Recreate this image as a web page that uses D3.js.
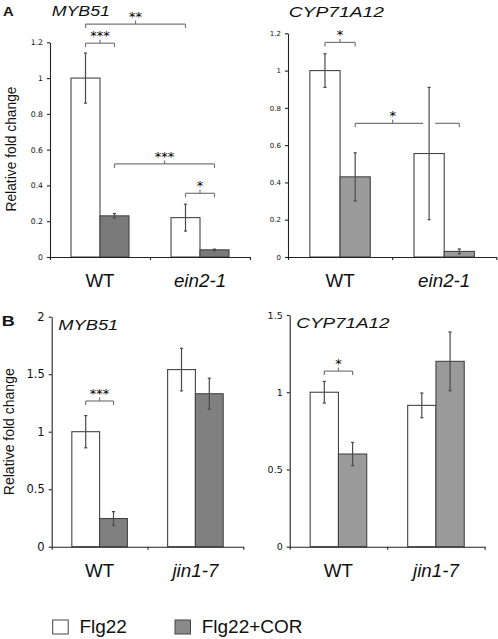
<!DOCTYPE html>
<html><head><meta charset="utf-8">
<script src="https://cdn.jsdelivr.net/npm/d3@7"></script>
<style>body{margin:0;background:#fff}svg{display:block}</style></head>
<body><svg id="c" width="498" height="639"></svg>
<script>
// ---------- data ----------
const series = ["Flg22", "Flg22+COR"];
const groupsEin2 = ["WT", "ein2-1"];
const groupsJin1 = ["WT", "jin1-7"];

const myb51Ein2Flg22 = [1.00, 0.22];
const myb51Ein2Flg22Err = [0.14, 0.075];
const myb51Ein2Cor = [0.23, 0.04];
const myb51Ein2CorErr = [0.013, 0.004];

const cypEin2Flg22 = [1.00, 0.555];
const cypEin2Flg22Err = [0.09, 0.355];
const cypEin2Cor = [0.43, 0.03];
const cypEin2CorErr = [0.129, 0.013];

const myb51Jin1Flg22 = [1.00, 1.54];
const myb51Jin1Flg22Err = [0.14, 0.185];
const myb51Jin1Cor = [0.245, 1.33];
const myb51Jin1CorErr = [0.06, 0.135];

const cypJin1Flg22 = [1.00, 0.915];
const cypJin1Flg22Err = [0.07, 0.08];
const cypJin1Cor = [0.60, 1.20];
const cypJin1CorErr = [0.075, 0.19];

const ticksA = [0, 0.2, 0.4, 0.6, 0.8, 1, 1.2];
const ticksB1 = [0, 0.5, 1, 1.5, 2];
const ticksB2 = [0, 0.5, 1, 1.5];

// significance brackets: [group a, series a, group b, series b, level, label, centre fraction]
const sigMyb51Ein2 = [
  [0, 0, 1, 0, 1.302, "**"],
  [0, 0, 0, 1, 1.195, "***"],
  [0, 1, 1, 1, 0.52, "***"],
  [1, 0, 1, 1, 0.356, "*"]
];
const sigCypEin2 = [
  [0, 0, 0, 1, 1.151, "*"],
  [0, 1, 1, 1, 0.717, "*", 0.36]
];
const sigMyb51Jin1 = [[0, 0, 0, 1, 1.267, "***"]];
const sigCypJin1 = [[0, 0, 0, 1, 1.137, "*"]];

// ---------- drawing ----------
const svg = d3.select("#c");
const SANS = "'Liberation Sans', Arial, sans-serif";
const TICKF = "'DejaVu Sans', Verdana, sans-serif";

const panels = [
  {letter: "A", lx: 3, ly: 15.7, lsize: 13, lw: 10.7,
   title: "MYB51", tx: 51.7, ty: 16, tsize: 14.5, tw: 58.3,
   groups: groupsEin2, flg: myb51Ein2Flg22, flgE: myb51Ein2Flg22Err, cor: myb51Ein2Cor, corE: myb51Ein2CorErr,
   sig: sigMyb51Ein2, ticks: ticksA, max: 1.2,
   x0: 50, x1: 250, y0: 257, yTop: 42.3, fill: "#7a7a7a", tickSize: 7.7, catY: 286.7,
   ylabel: {x: 16, y: 149, size: 13.8}},
  {title: "CYP71A12", tx: 288.7, ty: 16.7, tsize: 15, tw: 95.3,
   groups: groupsEin2, flg: cypEin2Flg22, flgE: cypEin2Flg22Err, cor: cypEin2Cor, corE: cypEin2CorErr,
   sig: sigCypEin2, ticks: ticksA, max: 1.2,
   x0: 288, x1: 496.3, y0: 257, yTop: 33.3, fill: "#9a9a9a", tickSize: 7, catY: 286.7},
  {letter: "B", lx: 1.7, ly: 326, lsize: 15, lw: 13,
   title: "MYB51", tx: 58.3, ty: 330, tsize: 15, tw: 60,
   groups: groupsJin1, flg: myb51Jin1Flg22, flgE: myb51Jin1Flg22Err, cor: myb51Jin1Cor, corE: myb51Jin1CorErr,
   sig: sigMyb51Jin1, ticks: ticksB1, max: 2,
   x0: 51.7, x1: 243.3, y0: 546.7, yTop: 316.7, fill: "#808080", tickSize: 11.5, catY: 576.7,
   ylabel: {x: 13.5, y: 431.7, size: 14}},
  {title: "CYP71A12", tx: 296.3, ty: 328.3, tsize: 15, tw: 93.3,
   groups: groupsJin1, flg: cypJin1Flg22, flgE: cypJin1Flg22Err, cor: cypJin1Cor, corE: cypJin1CorErr,
   sig: sigCypJin1, ticks: ticksB2, max: 1.5,
   x0: 289.7, x1: 484.7, y0: 546.7, yTop: 315, fill: "#9a9a9a", tickSize: 9.5, catY: 576.7}
];

function drawPanel(p) {
  const g = svg.append("g");
  const x = d3.scaleBand().domain(p.groups).range([p.x0, p.x1]).paddingInner(0.42).paddingOuter(0.21);
  const xs = d3.scaleBand().domain(series).range([0, x.bandwidth()]);
  const y = d3.scaleLinear().domain([0, p.max]).range([p.y0, p.yTop]);
  const bnd = d3.scaleLinear().domain([0, p.groups.length]).range([p.x0, p.x1]);

  const rows = [];
  p.groups.forEach((grp, i) => {
    rows.push({g: grp, gi: i, s: series[0], si: 0, v: p.flg[i], e: p.flgE[i]});
    rows.push({g: grp, gi: i, s: series[1], si: 1, v: p.cor[i], e: p.corE[i]});
  });
  const cx = (gi, si) => x(p.groups[gi]) + xs(series[si]) + xs.bandwidth() / 2;

  // bars
  g.selectAll("rect.bar").data(rows).join("rect").attr("class", "bar")
    .attr("x", d => x(d.g) + xs(d.s))
    .attr("width", xs.bandwidth())
    .attr("y", d => y(d.v))
    .attr("height", d => y(0) - y(d.v))
    .attr("fill", d => d.si === 0 ? "#ffffff" : p.fill)
    .attr("stroke", "#444").attr("stroke-width", 1.1);

  // brackets (with gaps where an error bar crosses)
  const br = g.append("g");
  p.sig.forEach(s => {
    const xa = cx(s[0], s[1]), xb = cx(s[2], s[3]);
    const ly = y(s[4]);
    const mid = s[6] !== undefined ? xa + (xb - xa) * s[6] : (xa + xb) / 2;
    const gaps = rows.map(d => ({xx: cx(d.gi, d.si), top: y(d.v + d.e), bot: y(d.v - d.e)}))
      .filter(d => d.xx > xa + 2 && d.xx < xb - 2 && d.top < ly && d.bot > ly)
      .map(d => d.xx).sort((a, b) => a - b);
    let segs = [], start = xa;
    gaps.forEach(gx => { segs.push([start, gx - 6]); start = gx + 6; });
    segs.push([start, xb]);
    segs.forEach(sg => br.append("line").attr("x1", sg[0]).attr("x2", sg[1]).attr("y1", ly).attr("y2", ly));
    br.append("line").attr("x1", xa).attr("x2", xa).attr("y1", ly).attr("y2", ly + 4);
    br.append("line").attr("x1", xb).attr("x2", xb).attr("y1", ly).attr("y2", ly + 4);
    br.append("line").attr("x1", mid).attr("x2", mid).attr("y1", ly).attr("y2", ly - 3.5);
    g.append("text").attr("x", mid).attr("y", ly - 3)
      .attr("text-anchor", "middle").attr("font-family", TICKF).attr("font-size", 13)
      .attr("fill", "#000").text(s[5]);
  });
  br.selectAll("line").attr("stroke", "#777").attr("stroke-width", 1.2);

  // error bars
  const eb = g.append("g").attr("stroke", "#4a4a4a").attr("stroke-width", 1.2);
  rows.forEach(d => {
    const xx = cx(d.gi, d.si);
    eb.append("line").attr("x1", xx).attr("x2", xx).attr("y1", y(d.v + d.e)).attr("y2", y(d.v - d.e));
    eb.append("line").attr("x1", xx - 1.6).attr("x2", xx + 1.6).attr("y1", y(d.v + d.e)).attr("y2", y(d.v + d.e));
    eb.append("line").attr("x1", xx - 1.6).attr("x2", xx + 1.6).attr("y1", y(d.v - d.e)).attr("y2", y(d.v - d.e));
  });

  // y axis
  const ya = g.append("g").attr("transform", `translate(${p.x0},0)`)
    .call(d3.axisLeft(y).tickValues(p.ticks).tickSize(3).tickSizeOuter(0).tickPadding(4).tickFormat(d => String(d)));
  ya.selectAll("path,line").attr("stroke", "#222").attr("stroke-width", 1.1);
  ya.selectAll("text").attr("font-family", TICKF).attr("font-size", p.tickSize).attr("fill", "#111");

  // x axis with boundary ticks
  const xa = g.append("g").attr("transform", `translate(0,${p.y0})`)
    .call(d3.axisBottom(bnd).tickValues(d3.range(p.groups.length + 1)).tickSize(3).tickSizeOuter(0).tickFormat(""));
  xa.selectAll("path,line").attr("stroke", "#222").attr("stroke-width", 1.1);

  // category labels
  g.selectAll("text.cat").data(p.groups).join("text").attr("class", "cat")
    .attr("x", d => x(d) + x.bandwidth() / 2).attr("y", p.catY)
    .attr("text-anchor", "middle").attr("font-family", SANS).attr("font-size", 18.8)
    .attr("font-style", (d, i) => i === 0 ? "normal" : "italic").attr("fill", "#111").text(d => d);

  // title
  g.append("text").attr("x", p.tx).attr("y", p.ty).attr("font-family", SANS)
    .attr("font-size", p.tsize).attr("font-style", "italic").attr("fill", "#111")
    .attr("textLength", p.tw).attr("lengthAdjust", "spacingAndGlyphs").text(p.title);

  if (p.letter) {
    g.append("text").attr("x", p.lx).attr("y", p.ly).attr("font-family", SANS)
      .attr("font-size", p.lsize).attr("font-weight", "bold").attr("fill", "#111")
      .attr("textLength", p.lw).attr("lengthAdjust", "spacingAndGlyphs").text(p.letter);
  }
  if (p.ylabel) {
    g.append("text").attr("transform", `translate(${p.ylabel.x},${p.ylabel.y}) rotate(-90)`)
      .attr("text-anchor", "middle").attr("font-family", SANS).attr("font-size", p.ylabel.size)
      .attr("fill", "#111").text("Relative fold change");
  }
}

panels.forEach(drawPanel);

// legend
const legendFills = ["#ffffff", "#8a8a8a"];
const legendX = [52.7, 175];
const lg = svg.append("g");
series.forEach((s, i) => {
  lg.append("rect").attr("x", legendX[i]).attr("y", 620).attr("width", 15.5).attr("height", 14)
    .attr("fill", legendFills[i]).attr("stroke", "#444").attr("stroke-width", 1);
  lg.append("text").attr("x", legendX[i] + 26.7).attr("y", 633.3).attr("font-family", SANS)
    .attr("font-size", 19).attr("fill", "#111").text(s);
});
</script>
</body></html>
